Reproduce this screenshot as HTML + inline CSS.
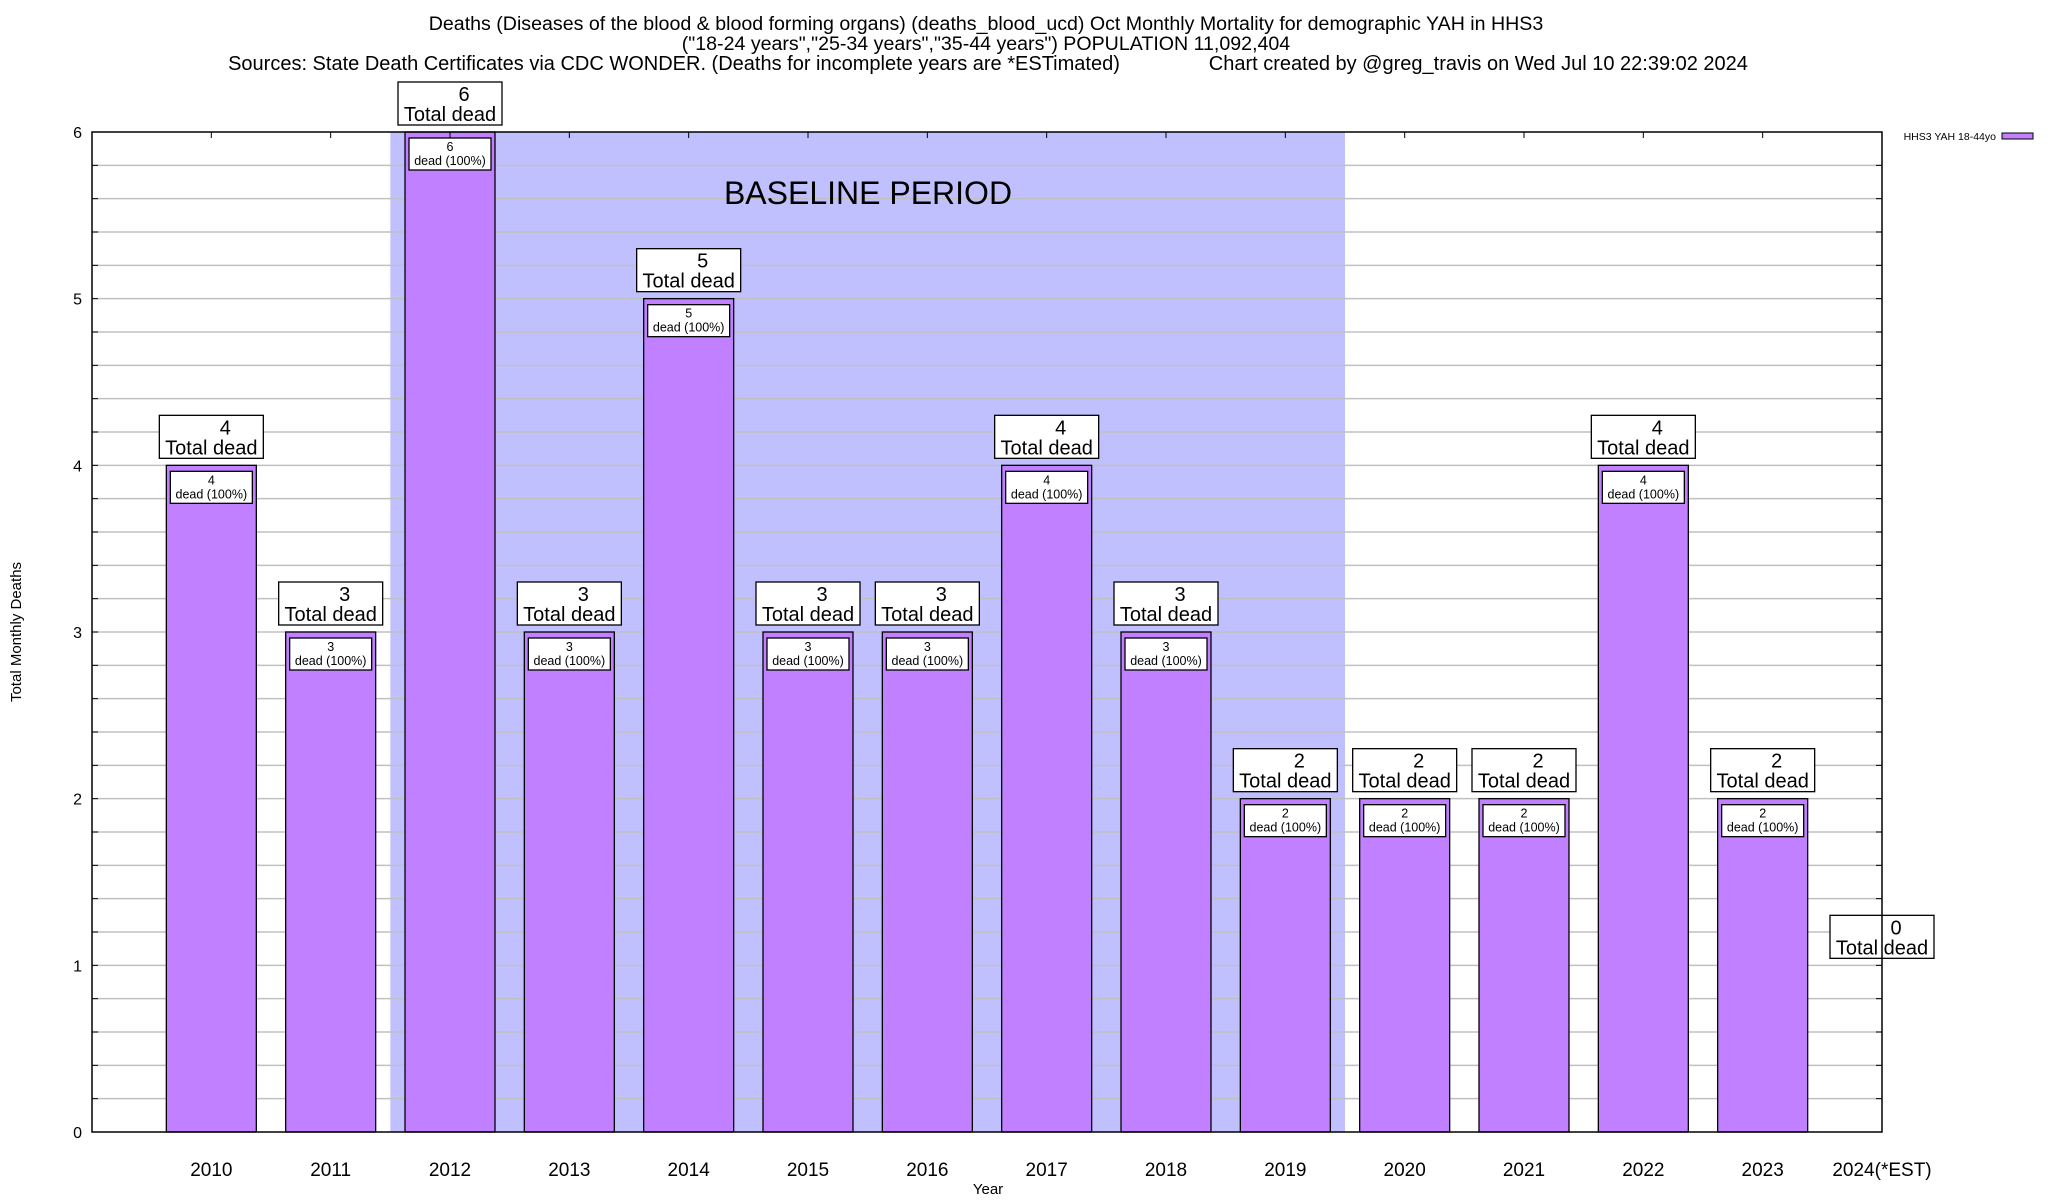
<!DOCTYPE html>
<html><head><meta charset="utf-8"><style>
html,body{margin:0;padding:0;background:#fff;}
svg{display:block;font-family:"Liberation Sans",Arial,sans-serif;}
</style></head><body>
<svg id="chart" width="2048" height="1200" viewBox="0 0 2048 1200">
<g font-size="19.6" text-anchor="middle" fill="#000">
<text x="986" y="30">Deaths (Diseases of the blood &amp; blood forming organs) (deaths_blood_ucd) Oct Monthly Mortality for demographic YAH in HHS3</text>
<text x="986" y="50">("18-24 years","25-34 years","35-44 years") POPULATION 11,092,404</text>
<text x="988" y="70" xml:space="preserve" font-size="20">Sources: State Death Certificates via CDC WONDER. (Deaths for incomplete years are *ESTimated)                Chart created by @greg_travis on Wed Jul 10 22:39:02 2024</text>
</g>
<g id="plot"></g>
<text x="21" y="632" font-size="15" text-anchor="middle" transform="rotate(-90 21 632)">Total Monthly Deaths</text>
<text x="988" y="1194" font-size="15" text-anchor="middle">Year</text>
<g>
<text x="1996" y="140" font-size="10.5" text-anchor="end">HHS3 YAH 18-44yo</text>
<rect x="2002" y="133" width="31" height="6" fill="#c080ff" stroke="#000" stroke-width="1"/>
</g>
</svg>
<script>
const categories = ["2010","2011","2012","2013","2014","2015","2016","2017","2018","2019","2020","2021","2022","2023","2024(*EST)"];
const deaths = [4,3,6,3,5,3,3,4,3,2,2,2,4,2,0];
const yTicks = [0,1,2,3,4,5,6];
const baselineStart = 2;  // index of 2012
const baselineEnd = 9;    // index of 2019

const NS = "http://www.w3.org/2000/svg";
const L = 92, R = 1882, T = 132, B = 1132, yMax = 6;
const slot = (R - L) / 15;
const xc = i => L + slot * (i + 1);
const y = v => B - (v / yMax) * (B - T);
const g = document.getElementById('plot');
function mk(tag, attrs, parent) {
  const e = document.createElementNS(NS, tag);
  for (const k in attrs) e.setAttribute(k, attrs[k]);
  (parent || g).appendChild(e);
  return e;
}

const shade = mk('rect', {x: xc(baselineStart) - slot / 2, y: T, width: (baselineEnd - baselineStart + 1) * slot, height: B - T, fill: '#c0c0ff'});



for (let k = 1; k < yMax * 5; k++) {
  const v = k / 5;
  const gl = mk('line', {x1: L, x2: R, y1: y(v), y2: y(v), stroke: '#c0c0c0', 'stroke-width': 1.5});
  
  
  const t1 = mk('line', {x1: L, x2: L + 6, y1: y(v), y2: y(v), stroke: '#000'});
  
  
  const t2 = mk('line', {x1: R - 6, x2: R, y1: y(v), y2: y(v), stroke: '#000'});
  
  
}

const bl = mk('text', {x: 868, y: 204, 'font-size': 32, 'text-anchor': 'middle'});
bl.textContent = 'BASELINE PERIOD';



yTicks.forEach(v => {
  const t = mk('text', {x: 82, y: y(v) + 6, 'font-size': 16, 'text-anchor': 'end'});
  t.textContent = v;
  
  
});

const bw = 90;
categories.forEach((c, i) => {
  const v = deaths[i];
  const cx = xc(i);
  if (v > 0) {
    const b = mk('rect', {x: cx - bw / 2, y: y(v), width: bw, height: B - y(v), fill: '#c080ff', stroke: '#000', 'stroke-width': 1.3});
    
    
    const ib = mk('rect', {x: cx - 41, y: y(v) + 6, width: 82, height: 32, fill: '#fff', stroke: '#000', 'stroke-width': 1.3});
    
    
    const t1 = mk('text', {x: cx, y: y(v) + 19, 'font-size': 12.5, 'text-anchor': 'middle'});
    t1.textContent = v;
    
    
    const t2 = mk('text', {x: cx, y: y(v) + 33, 'font-size': 12.5, 'text-anchor': 'middle'});
    t2.textContent = 'dead (100%)';
    
    
  }
  const ly = y(Math.max(v, 1));
  const bx = mk('rect', {x: cx - 52, y: ly - 50, width: 104, height: 43, fill: '#fff', stroke: '#000', 'stroke-width': 1.3});
  
  
  const n = mk('text', {x: cx + 14, y: ly - 31, 'font-size': 20, 'text-anchor': 'middle'});
  n.textContent = v;
  
  
  const td = mk('text', {x: cx, y: ly - 11, 'font-size': 20, 'text-anchor': 'middle'});
  td.textContent = 'Total dead';
  
  
  const xl = mk('text', {x: cx, y: 1176, 'font-size': 19, 'text-anchor': 'middle'});
  xl.textContent = c;
  
  
  const tt = mk('line', {x1: cx, x2: cx, y1: T, y2: T + 6, stroke: '#000'});
  
  
});

const frame = mk('rect', {x: L, y: T, width: R - L, height: B - T, fill: 'none', stroke: '#000', 'stroke-width': 1.5});


</script>
</body></html>
